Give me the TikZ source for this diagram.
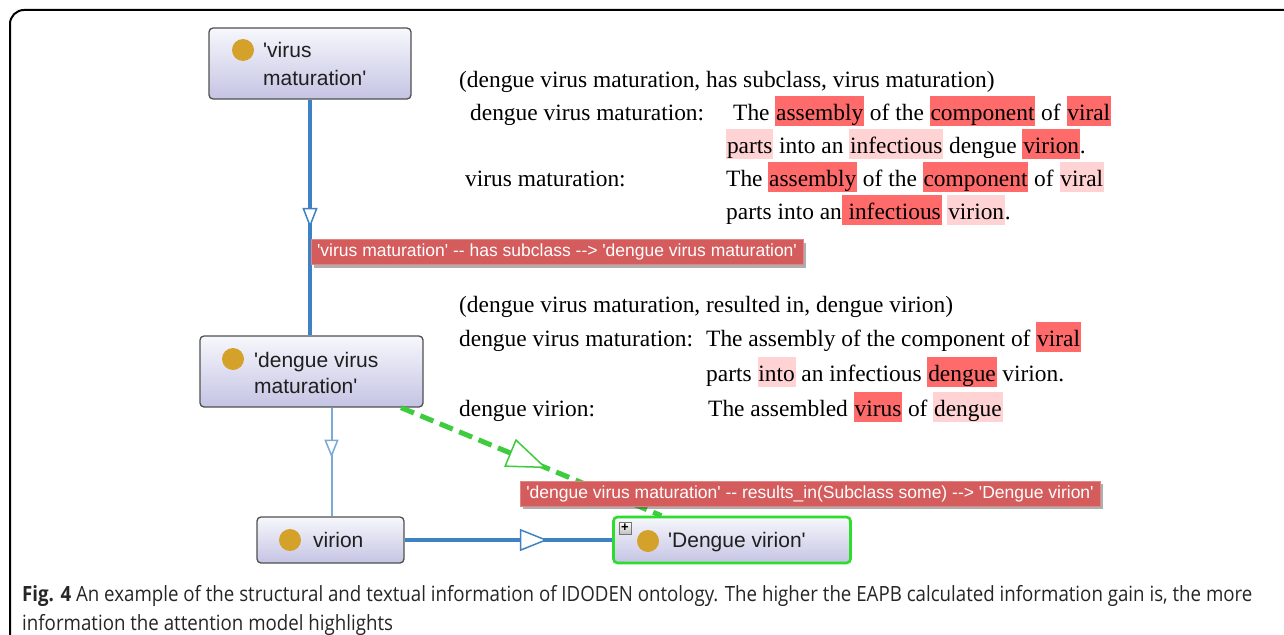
\documentclass[tikz,border=0pt]{standalone}
\usepackage{fontspec}
\setmainfont{Liberation Serif}
\newfontfamily\boxfont[Ligatures=TeXOff]{Liberation Sans}
\newfontfamily\capfont[FakeStretch=0.89]{Open Sans}
\usetikzlibrary{arrows.meta,decorations.markings,shadows}

\definecolor{nodetop}{HTML}{F7F7FC}
\definecolor{nodebot}{HTML}{C4C4E4}
\definecolor{nodeedge}{HTML}{505050}
\definecolor{dotcol}{HTML}{D4A12A}
\definecolor{linkblue}{HTML}{3F82C4}
\definecolor{thinblue}{HTML}{7AAAD8}
\definecolor{relgreen}{HTML}{3DCC3D}
\definecolor{selgreen}{HTML}{2EDC2E}
\definecolor{tipred}{HTML}{D45C5C}
\definecolor{hldark}{HTML}{FF6B6B}
\definecolor{hllight}{HTML}{FFD3D3}

% word highlights: strong and weak attention
\newcommand\hlA[1]{{\setlength\fboxsep{0.8pt}\colorbox{hldark}{\rule[-5pt]{0pt}{28pt}#1}}}
\newcommand\hlB[1]{{\setlength\fboxsep{0.8pt}\colorbox{hllight}{\rule[-5pt]{0pt}{28pt}#1}}}

\tikzset{
  cls/.style={draw=nodeedge, line width=1.3pt, rounded corners=4pt,
    top color=nodetop, bottom color=nodebot, inner sep=0pt},
  selcls/.style={cls, draw=selgreen, line width=2.6pt},
  dot/.style={circle, fill=dotcol, minimum size=22pt, inner sep=0pt},
  boxtext/.style={anchor=base west, inner sep=0pt, text=black!88,
    font=\boxfont\fontsize{21}{25}\selectfont},
  txt/.style={anchor=base west, inner sep=0pt, font=\fontsize{23.4}{27}\selectfont},
  tip/.style={fill=tipred, draw=tipred!75!white, line width=0.8pt, text=white,
    font=\boxfont\fontsize{17.5}{20}\selectfont, inner xsep=6pt, inner ysep=0pt,
    minimum height=25pt,
    drop shadow={shadow xshift=3pt, shadow yshift=-3pt, opacity=0.45, fill=black!70}},
  thickblue/.style={draw=linkblue, line width=3.5pt},
  thinline/.style={draw=thinblue, line width=2pt},
  relline/.style={draw=relgreen, line width=5pt, dash pattern=on 14pt off 7pt},
  midtip/.style n args={5}{postaction={decorate}, decoration={markings,
    mark=at position #1 with {\arrow{Triangle[fill=white, color=#2, line width=1.5pt, length=#3pt, width=#4pt, #5]}}}}
}

\begin{document}
\begin{tikzpicture}[x=1pt,y=-1pt]
\useasboundingbox (0,0) rectangle (1284,634);
\fill[white] (0,0) rectangle (1284,634);

% figure frame
\draw[line width=2pt, rounded corners=14pt] (10,650) -- (10,10) -- (1300,10);

% class boxes
\node[cls, minimum width=202pt, minimum height=71pt] (vm) at (310,63.5) {};
\node[dot] (vmdot) at (243,50) {};
\node[boxtext] (vmt1) at (263,57) {'virus};
\node[boxtext] (vmt2) at (263,85) {maturation'};

\node[cls, minimum width=223pt, minimum height=71pt] (dvm) at (311.5,371.5) {};
\node[dot] (dvmdot) at (233,359) {};
\node[boxtext] (dvmt1) at (254,367) {'dengue virus};
\node[boxtext] (dvmt2) at (254,393) {maturation'};

\node[cls, minimum width=147pt, minimum height=46pt] (vir) at (330.5,540) {};
\node[dot] (virdot) at (290,540) {};
\node[boxtext] (virt) at (313,547) {virion};

\node[selcls, minimum width=237pt, minimum height=46pt] (dv) at (732,540) {};
\node[draw=black!55, top color=white, bottom color=black!25, minimum size=12pt,
      inner sep=0pt, font=\boxfont\bfseries\fontsize{13}{13}\selectfont] (dvplus) at (625,528) {+};
\node[dot] (dvdot) at (648,541) {};
\node[boxtext] (dvt) at (668,547) {'Dengue virion'};

% relations
\draw[thickblue, midtip={0.544}{linkblue}{20}{15}{}] (vm.south) -- (vm.south |- dvm.north);
\draw[thinline, midtip={0.46}{thinblue}{18}{14}{}] ([xshift=20pt]dvm.south) -- ([xshift=20pt]dvm.south |- vir.north);
\draw[thickblue, midtip={0.69}{linkblue}{28}{22}{}] (vir.east) -- (dv.west);
\draw[relline, midtip={0.56}{relgreen}{40}{30}{}] (dvm.-22.5) -- (dv.161.8);

% relation tooltips
\node[tip, minimum width=492pt] (tip1) at (557,252) {'virus maturation' -- has subclass --> 'dengue virus maturation'};
\node[tip, minimum width=580pt] (tip2) at (810,493.5) {'dengue virus maturation' -- results\_in(Subclass some) --> 'Dengue virion'};

% textual definitions with attention highlights
\node[txt] (r1) at (459,87) {(dengue virus maturation, has subclass, virus maturation)};
\node[txt] (r1a) at (470,120) {dengue virus maturation:};
\node[txt] (r1b) at (733,120) {The \hlA{assembly} of the \hlA{component} of \hlA{viral}};
\node[txt] (r1c) at (726,153) {\hlB{parts} into an \hlB{infectious} dengue \hlA{virion}.};
\node[txt] (r1d) at (465,186) {virus maturation:};
\node[txt] (r1e) at (726,186) {The \hlA{assembly} of the \hlA{component} of \hlB{viral}};
\node[txt] (r1f) at (726,219) {parts into an\hlA{ infectious} \hlB{virion}.};

\node[txt] (r2) at (459,312) {(dengue virus maturation, resulted in, dengue virion)};
\node[txt] (r2a) at (459,346) {dengue virus maturation:};
\node[txt] (r2b) at (706,346) {The assembly of the component of \hlA{viral}};
\node[txt] (r2c) at (706,381) {parts \hlB{into} an infectious \hlA{dengue} virion.};
\node[txt] (r2d) at (459,416) {dengue virion:};
\node[txt] (r2e) at (708,416) {The assembled \hlA{virus} of \hlB{dengue}};

% caption
\node[anchor=base west, inner sep=0pt, text=black!85, font=\capfont\fontsize{21}{25}\selectfont] (cap1) at (22,601)
  {\textbf{Fig. 4} An example of the structural and textual information of IDODEN ontology. The higher the EAPB calculated information gain is, the more};
\node[anchor=base west, inner sep=0pt, text=black!85, font=\capfont\fontsize{21}{25}\selectfont] (cap2) at (22,630)
  {information the attention model highlights};
\end{tikzpicture}
\end{document}
